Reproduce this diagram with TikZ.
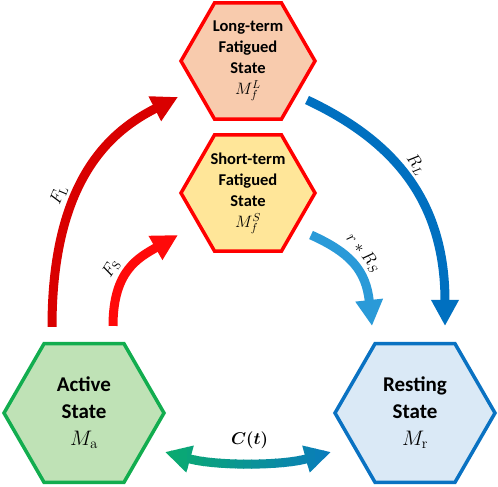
\documentclass[tikz,border=0pt]{standalone}
\usepackage{fix-cm}
\usepackage[no-math]{fontspec}
\setmainfont{Carlito}
\usepackage{bm}
\usetikzlibrary{arrows.meta,shapes.geometric,calc}

\definecolor{hexred}{HTML}{FF0000}
\definecolor{longfill}{HTML}{F8CBAD}
\definecolor{shortfill}{HTML}{FFE699}
\definecolor{actline}{HTML}{12AD4F}
\definecolor{actfill}{HTML}{BFE2B6}
\definecolor{restline}{HTML}{0A72C2}
\definecolor{restfill}{HTML}{DAE9F6}
\definecolor{fLred}{HTML}{D90000}
\definecolor{fSred}{HTML}{FF0A0A}
\definecolor{rLblue}{HTML}{0070C0}
\definecolor{rSblue}{HTML}{2A9AD8}
\definecolor{ctgreen}{HTML}{0AAE6A}
\definecolor{ctblue}{HTML}{0A78C2}

\tikzset{
  hexnode/.style={regular polygon, regular polygon sides=6, inner sep=0pt, line width=3.5pt, align=center},
  smallhex/.style={hexnode, minimum size=134pt, font=\bfseries\fontsize{16.5}{21}\selectfont},
  bighex/.style={hexnode, minimum size=160pt, font=\bfseries\fontsize{21}{27}\selectfont},
  flow/.style={line width=9pt, -{Triangle[length=26pt,width=26pt]}},
  twoflow/.style={line width=9pt, {Triangle[length=26pt,width=26pt]}-{Triangle[length=26pt,width=26pt]}},
  rate/.style={sloped, above, inner sep=4pt, text=black, font=\fontsize{17}{20}\selectfont},
}

\begin{document}
\begin{tikzpicture}[x=1pt, y=-1pt]
\useasboundingbox (0,0) rectangle (498,487);

% states
\node[smallhex, draw=hexred, fill=longfill] (long) at (248,61) {Long-term\\Fatigued\\State\\$M_f^L$};
\node[smallhex, draw=hexred, fill=shortfill] (short) at (248,193) {Short-term\\Fatigued\\State\\$M_f^S$};
\node[bighex, draw=actline, fill=actfill] (act) at (84,413) {Active\\State\\$M_\mathrm{a}$};
\node[bighex, draw=restline, fill=restfill] (rest) at (415,413) {Resting\\State\\$M_\mathrm{r}$};

% fatigue
\draw[flow, fLred] ([xshift=-32pt,yshift=15pt]act.north) .. controls +(0,-150) and +(-65,33) .. node[rate, pos=.36] (lblFL) {$F_\mathrm{L}$} ([xshift=-1pt,yshift=-36pt]long.west);
\draw[flow, fSred] ([xshift=29pt,yshift=16pt]act.north) .. controls +(0,-55) and +(-40,23) .. node[rate, pos=.4] (lblFS) {$F_\mathrm{S}$} ([xshift=-1pt,yshift=-42pt]short.west);

% recovery
\draw[flow, rLblue] ([xshift=-10pt,yshift=-39pt]long.east) .. controls +(85,40) and +(0,-127) .. node[rate, pos=.47] (lblRL) {$R_L$} ([xshift=30pt,yshift=16pt]rest.north);
\draw[flow, rSblue] ([xshift=-6pt,yshift=-42pt]short.east) .. controls +(40,18) and +(-6,-55) .. node[rate, pos=.45] (lblRS) {$r*R_S$} ([xshift=-43pt,yshift=16pt]rest.north);

% command, drawn in strips for the colour change
\foreach \i in {0,...,23} {
  \pgfmathsetmacro\xa{155+8*\i}
  \pgfmathtruncatemacro\mix{100-100*\i/23}
  \begin{scope}
    \clip (\xa,420) rectangle (\xa+9,480);
    \draw[twoflow, ctgreen!\mix!ctblue] ([xshift=-1pt,yshift=-39pt]act.east) .. controls +(50,14) and +(-50,14) .. ([xshift=-2pt,yshift=-39pt]rest.west);
  \end{scope}
}
\node[font=\fontsize{17}{20}\selectfont] (lblC) at ($(act.east)!0.5!(rest.west)$) [yshift=-27pt] {$\bm{C(t)}$};
\end{tikzpicture}
\end{document}
